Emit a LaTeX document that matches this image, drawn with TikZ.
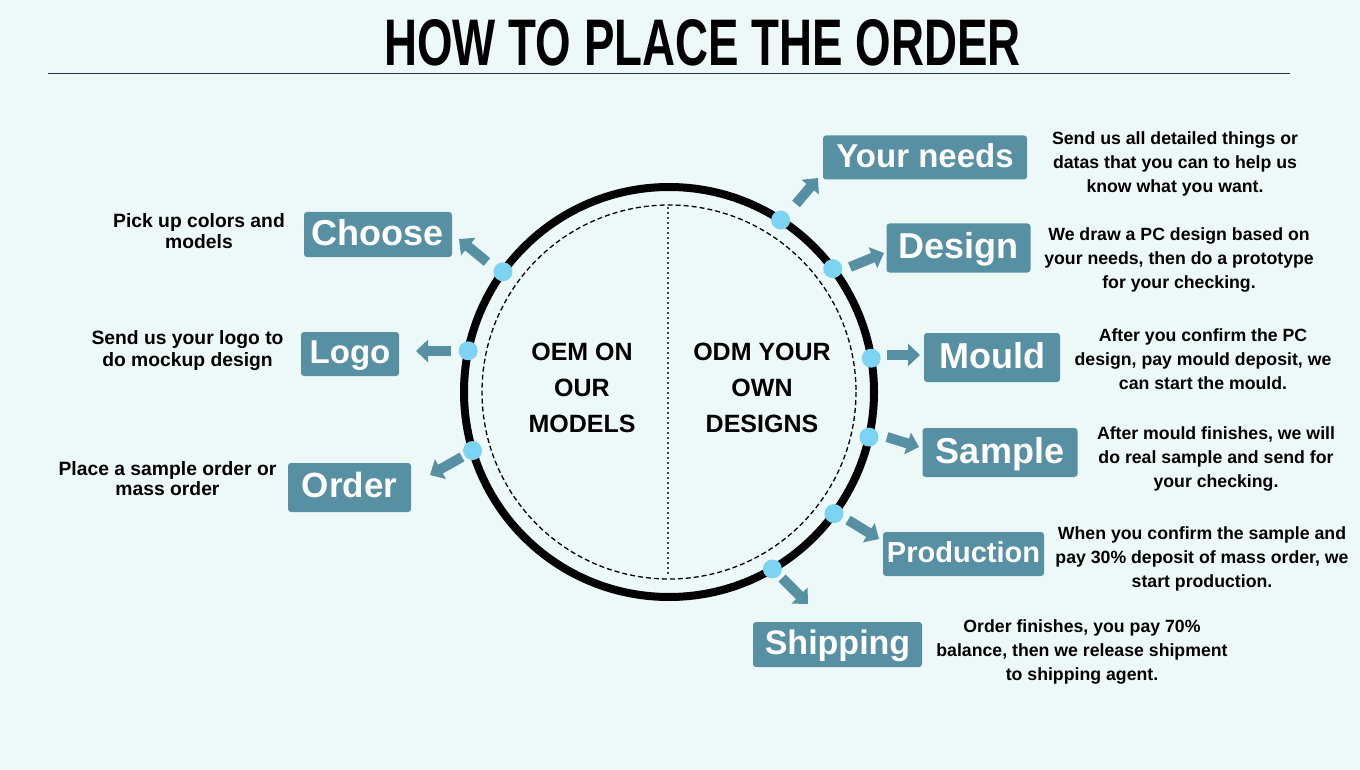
\documentclass[tikz,border=0pt]{standalone}
\usepackage{graphicx}
\usepackage{fontspec}
\setmainfont{Liberation Sans}
\usetikzlibrary{arrows.meta}
\definecolor{bg}{HTML}{EDF8F9}
\definecolor{boxc}{HTML}{5790A3}
\definecolor{dotc}{HTML}{7DD3F2}
\definecolor{linec}{HTML}{2E2E48}
\definecolor{vlinec}{HTML}{4B3F5E}
\begin{document}
\begin{tikzpicture}[x=1pt,y=-1pt,
  box/.style={fill=boxc, rounded corners=3pt, text=white, inner sep=0pt, anchor=center},
  bfs/.style={font=\bfseries\fontsize{#1}{#1}\selectfont, text height={#1*0.72pt}, text depth={#1*0.13pt}},
  desc/.style={align=center, text=black, inner sep=0pt, font=\bfseries\fontsize{17.7}{24}\selectfont},
  desctwo/.style={align=center, text=black, inner sep=0pt, font=\bfseries\fontsize{19.3}{#1}\selectfont},
  dotn/.style={circle, fill=dotc, minimum size=19pt, inner sep=0pt},
  arr/.style={draw=boxc, line width=10pt, -{Triangle[length=12pt,width=22pt]}},
  ctext/.style={align=center, inner sep=0pt, font=\bfseries\fontsize{25}{36}\selectfont}]
\useasboundingbox[fill=bg] (0,0) rectangle (1360,770);

% title
\node[inner sep=0pt] (title) at (702.5,43) {\resizebox{636pt}{46pt}{\bfseries HOW TO PLACE THE ORDER}};
\coordinate (rl) at (48,74);
\coordinate (rr) at (1290,74);
\draw[linec, line width=1pt] (rl) -- (rr);

% circle
\coordinate (C) at (669,392);
\draw[black, line width=8pt] (C) circle[radius=205];
\draw[black, line width=1.3pt, dash pattern=on 5pt off 3pt] (C) circle[radius=187];
\coordinate (vt) at (668,207);
\coordinate (vb) at (668,576);
\draw[vlinec, line width=2pt, dash pattern=on 2pt off 3pt] (vt) -- (vb);

\node[ctext] (oem) at (582,388) {OEM ON\\OUR\\MODELS};
\node[ctext] (odm) at (762,388) {ODM YOUR\\OWN\\DESIGNS};

% dots (y axis points down, so angles are negated)
\path (C) ++(-57:205) node[dotn] (dYN) {};
\path (C) ++(-37:205) node[dotn] (dDe) {};
\path (C) ++(-9.5:205) node[dotn] (dMo) {};
\path (C) ++(12.7:205) node[dotn] (dSa) {};
\path (C) ++(36.4:205) node[dotn] (dPr) {};
\path (C) ++(59.7:205) node[dotn] (dSh) {};
\path (C) ++(-144.1:205) node[dotn] (dCh) {};
\path (C) ++(-168.4:205) node[dotn] (dLo) {};
\path (C) ++(-196.6:205) node[dotn] (dOr) {};

% boxes
\node[box, bfs=33, minimum width=204pt, minimum height=44pt] (bYN) at (925,157.5) {Your needs};
\node[box, bfs=36, minimum width=144pt, minimum height=49pt] (bDe) at (958.5,248) {Design};
\node[box, bfs=36, minimum width=136pt, minimum height=49pt] (bMo) at (992,357.5) {Mould};
\node[box, bfs=36, minimum width=155pt, minimum height=49pt] (bSa) at (1000,452.5) {Sample};
\node[box, bfs=29, minimum width=161pt, minimum height=44pt] (bPr) at (963.5,554) {Production};
\node[box, bfs=34, minimum width=169pt, minimum height=45pt] (bSh) at (837.5,644.5) {Shipping};
\node[box, bfs=36, minimum width=148pt, minimum height=45pt] (bCh) at (378,234.5) {Choose};
\node[box, bfs=33, minimum width=98pt, minimum height=44pt] (bLo) at (350,354) {Logo};
\node[box, bfs=35, minimum width=123pt, minimum height=49pt] (bOr) at (349.5,487.5) {Order};

% arrows
\coordinate (aYNs) at (796,204); \coordinate (aYNe) at (818,178);
\coordinate (aDes) at (850,267); \coordinate (aDee) at (884,253);
\coordinate (aMos) at (887,355); \coordinate (aMoe) at (920,355);
\coordinate (aSas) at (887,437); \coordinate (aSae) at (919,447);
\coordinate (aPrs) at (848,520); \coordinate (aPre) at (879,539);
\coordinate (aShs) at (782,578); \coordinate (aShe) at (808,604);
\coordinate (aChs) at (487,262); \coordinate (aChe) at (459,239);
\coordinate (aLos) at (451,351); \coordinate (aLoe) at (416,351);
\coordinate (aOrs) at (462,457); \coordinate (aOre) at (430,475);
\draw[arr] (aYNs) -- (aYNe);
\draw[arr] (aDes) -- (aDee);
\draw[arr] (aMos) -- (aMoe);
\draw[arr] (aSas) -- (aSae);
\draw[arr] (aPrs) -- (aPre);
\draw[arr] (aShs) -- (aShe);
\draw[arr] (aChs) -- (aChe);
\draw[arr] (aLos) -- (aLoe);
\draw[arr] (aOrs) -- (aOre);

% descriptions
\node[desc] (tYN) at (1175,164) {Send us all detailed things or\\datas that you can to help us\\know what you want.};
\node[desc] (tDe) at (1179,260) {We draw a PC design based on\\your needs, then do a prototype\\for your checking.};
\node[desc] (tMo) at (1203,359) {After you confirm the PC\\design, pay mould deposit, we\\can start the mould.};
\node[desc] (tSa) at (1216,459) {After mould finishes, we will\\do real sample and send for\\your checking.};
\node[desc] (tPr) at (1202,559) {When you confirm the sample and\\pay 30\% deposit of mass order, we\\start production.};
\node[desc] (tSh) at (1082,652) {Order finishes, you pay 70\%\\balance, then we release shipment\\to shipping agent.};
\node[desctwo=21] (tCh) at (199,231) {Pick up colors and\\models};
\node[desctwo=22] (tLo) at (187.5,350.5) {Send us your logo to\\do mockup design};
\node[desctwo=20] (tOr) at (167.5,478.5) {Place a sample order or\\mass order};
\end{tikzpicture}
\end{document}
